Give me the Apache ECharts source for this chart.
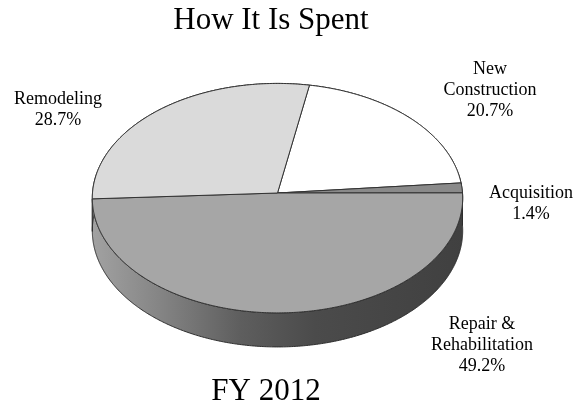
<!DOCTYPE html>
<html>
<head>
<meta charset="utf-8">
<script src="https://cdn.jsdelivr.net/npm/echarts@6/dist/echarts.min.js"></script>
<style>
  html, body { margin: 0; padding: 0; background: #ffffff; }
  #chart { width: 585px; height: 407px; }
</style>
</head>
<body>
<div id="chart"></div>
<script>
// Spending breakdown, share of total (%)
const categories = ['New\nConstruction', 'Acquisition', 'Repair &\nRehabilitation', 'Remodeling'];
const shares = [20.7, 1.4, 49.2, 28.7];
const chartTitle = 'How It Is Spent';
const chartFooter = 'FY 2012';

// Look of the tilted disc
const DISK = { cx: 277.5, cy: 193, rx: 185, ry: 114.5, k: 0.045, depth: 32.5, startDeg: 10.4 };
const topFill = ['#ffffff', '#8a8a8a', '#a6a6a6', '#dadada'];
const wallFill = [
  '#9a9a9a',
  '#5a5a5a',
  { type: 'linear', x: 0, y: 0, x2: 1, y2: 0, colorStops: [
      { offset: 0, color: '#a2a2a2' },
      { offset: 0.18, color: '#858585' },
      { offset: 0.4, color: '#5e5e5e' },
      { offset: 0.6, color: '#4b4b4b' },
      { offset: 1, color: '#404040' }
  ] },
  '#9c9c9c'
];
const FONT = "'Liberation Serif', 'Times New Roman', serif";
// Centre of each slice label block, in the order of categories
const labelSpots = [[490, 90.5], [531, 204], [482, 345], [58, 110]];

const total = shares.reduce((s, v) => s + v, 0);

function sliceRange(i) {
  let before = 0;
  for (let j = 0; j < i; j++) before += shares[j];
  const t0 = DISK.startDeg * Math.PI / 180 + before / total * 2 * Math.PI;
  return [t0, t0 + shares[i] / total * 2 * Math.PI];
}

// theta runs clockwise from 12 o'clock; drop pushes the point down to the bottom rim
function project(theta, r, drop) {
  const u = r * Math.sin(theta);
  const v = -r * Math.cos(theta);
  const w = 1 - DISK.k * v;
  return [DISK.cx + DISK.rx * u / w, DISK.cy + (DISK.ry * v + drop) / w];
}

function arc(t0, t1, drop) {
  const n = Math.max(2, Math.ceil((t1 - t0) / (Math.PI / 360)));
  const pts = [];
  for (let s = 0; s <= n; s++) pts.push(project(t0 + (t1 - t0) * s / n, 1, drop));
  return pts;
}

function renderWall(params, api) {
  const i = params.dataIndex;
  const [t0, t1] = sliceRange(i);
  const pts = arc(t0, t1, 0).concat(arc(t0, t1, DISK.depth).reverse());
  return {
    type: 'polygon',
    shape: { points: pts },
    style: { fill: wallFill[i], stroke: '#2e2e2e', lineWidth: 1, lineJoin: 'round' }
  };
}

function renderTop(params, api) {
  const i = params.dataIndex;
  const [t0, t1] = sliceRange(i);
  const pts = [project(0, 0, 0)].concat(arc(t0, t1, 0));
  return {
    type: 'polygon',
    shape: { points: pts },
    style: { fill: topFill[i], stroke: '#333333', lineWidth: 1, lineJoin: 'round' }
  };
}

const labels = categories.map((name, i) => ({
  type: 'text',
  x: labelSpots[i][0],
  y: labelSpots[i][1],
  silent: true,
  style: {
    text: name + '\n' + shares[i].toFixed(1) + '%',
    fontFamily: FONT, fontSize: 18, lineHeight: 21,
    fill: '#000000', align: 'center', verticalAlign: 'middle'
  }
}));

const chart = echarts.init(document.getElementById('chart'), null, { renderer: 'canvas' });
chart.setOption({
  backgroundColor: '#ffffff',
  animation: false,
  series: [
    { type: 'custom', coordinateSystem: 'none', data: shares, renderItem: renderWall, silent: true, z: 1 },
    { type: 'custom', coordinateSystem: 'none', data: shares, renderItem: renderTop, silent: true, z: 2 }
  ],
  graphic: [
    {
      type: 'text', x: 271, y: 20.5, silent: true,
      style: { text: chartTitle, fontFamily: FONT, fontSize: 31, fill: '#000000', align: 'center', verticalAlign: 'middle' }
    },
    {
      type: 'text', x: 266, y: 391.5, silent: true,
      style: { text: chartFooter, fontFamily: FONT, fontSize: 31, fill: '#000000', align: 'center', verticalAlign: 'middle' }
    }
  ].concat(labels)
});
</script>
</body>
</html>
